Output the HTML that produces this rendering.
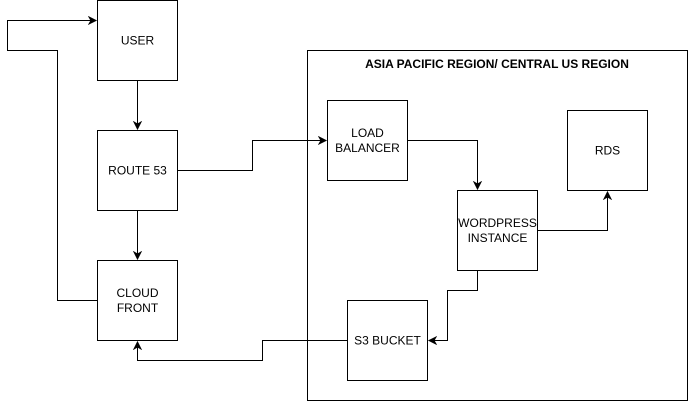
<!DOCTYPE html>
<html><head><meta charset="utf-8"><style>
html,body{margin:0;padding:0;background:#fff;}
svg{display:block;}
text{font-family:"Liberation Sans",Arial,sans-serif;font-size:12px;fill:#000;}
</style></head><body>
<svg width="688" height="401" viewBox="0 0 688 401" xmlns="http://www.w3.org/2000/svg">
<defs><marker id="a" markerWidth="10" markerHeight="10" refX="8" refY="5" orient="auto" markerUnits="userSpaceOnUse"><path d="M1,1.5 L8,5 L1,8.5 L3,5 Z" fill="#000" stroke="#000"/></marker></defs>
<g fill="#fff" stroke="#000" stroke-width="1">
<rect x="307.5" y="50.5" width="380" height="350"/>
<rect x="97.5" y="0.5" width="80" height="80"/>
<rect x="97.5" y="130.5" width="80" height="80"/>
<rect x="97.5" y="260.5" width="80" height="80"/>
<rect x="327.5" y="100.5" width="80" height="80"/>
<rect x="567.5" y="110.5" width="80" height="80"/>
<rect x="457.5" y="190.5" width="80" height="80"/>
<rect x="347.5" y="300.5" width="80" height="80"/>
</g>
<g fill="none" stroke="#000" stroke-width="1" marker-end="url(#a)">
<path d="M137.5,80.5 V129"/>
<path d="M137.5,210.5 V259"/>
<path d="M97.5,300.5 H57.5 V50.5 H7.5 V20.5 H96"/>
<path d="M177.5,170.5 H252.5 V140.5 H326"/>
<path d="M407.5,140.5 H477.5 V189"/>
<path d="M537.5,230.5 H607.5 V192"/>
<path d="M477.5,270.5 V290.5 H447.5 V340.5 H429"/>
<path d="M347.5,340.5 H262.5 V360.5 H137.5 V342"/>
</g>
<text x="497" y="68" text-anchor="middle" font-weight="bold">ASIA PACIFIC REGION/ CENTRAL US REGION</text>
<text x="137.5" y="44.5" text-anchor="middle">USER</text>
<text x="137.5" y="174.5" text-anchor="middle">ROUTE 53</text>
<text x="137.5" y="297" text-anchor="middle">CLOUD</text>
<text x="137.5" y="312" text-anchor="middle">FRONT</text>
<text x="367.5" y="137" text-anchor="middle">LOAD</text>
<text x="367.5" y="152" text-anchor="middle">BALANCER</text>
<text x="607.5" y="154.5" text-anchor="middle">RDS</text>
<text x="497.5" y="227" text-anchor="middle">WORDPRESS</text>
<text x="497.5" y="242" text-anchor="middle">INSTANCE</text>
<text x="387.5" y="344.5" text-anchor="middle">S3 BUCKET</text>
</svg>
</body></html>
